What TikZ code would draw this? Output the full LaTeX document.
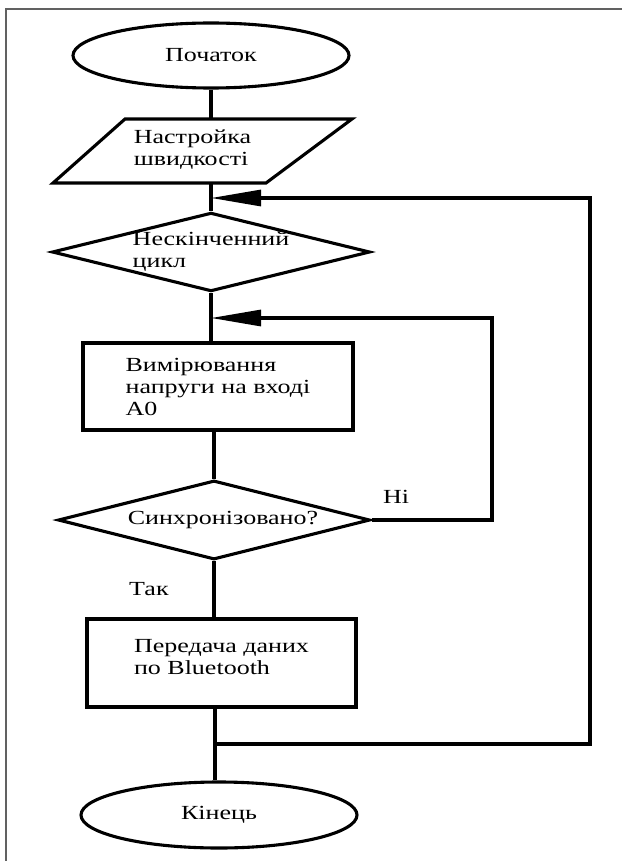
\documentclass[tikz,border=0pt]{standalone}
\usepackage{fontspec}
\setmainfont{Liberation Serif}[FakeStretch=1.3]
\usetikzlibrary{shapes.geometric,arrows.meta}
\begin{document}
\begin{tikzpicture}[x=1pt,y=-1pt,
  txt/.style={font=\fontsize{20pt}{22pt}\selectfont},
  every node/.style={inner sep=0pt, text=black},
  ln/.style={line width=3.1pt, draw=black},
  term/.style={ellipse, ln, minimum width=276pt, minimum height=65pt},
  proc/.style={rectangle, ln, align=left},
  dec/.style={diamond, ln, aspect=4, align=left},
  loopar/.style={ln, -{Triangle[length=50pt,width=16pt]}},
  frameln/.style={line width=1.6pt, draw=black!62}
]
\useasboundingbox (0,0) rectangle (622,861);
\draw[frameln] (6,861) -- (6,9) -- (622,9);

% shapes
\node[term, txt] (start) at (211,55.5) {Початок};

\coordinate (pTL) at (125,119);
\coordinate (pTR) at (352,119);
\coordinate (pBR) at (266,183);
\coordinate (pBL) at (53,183);
\draw[ln] (pTL) -- (pTR) -- (pBR) -- (pBL) -- cycle;
\node[txt, align=left] (par) at (192.5,150) {Настройка\\швидкості};
\coordinate (pin) at (211,119);
\coordinate (pout) at (211,183);

\node[dec, txt, minimum width=318pt, minimum height=78pt] (loopd) at (211,252) {Нескінченний\\цикл};

\node[proc, txt, minimum width=270pt, minimum height=87pt] (meas) at (218,386.5) {Вимірювання\\напруги на вході\\A0};

\node[dec, txt, minimum width=312pt, minimum height=79pt] (sync) at (214,520) {\hspace*{18pt}Синхронізовано?};

\node[proc, txt, minimum width=269pt, minimum height=88pt, text depth=13pt] (send) at (221.5,663) {Передача даних\\по Bluetooth};

\node[term, txt, minimum height=66pt] (stop) at (219,815) {Кінець};

% labels
\node[txt, anchor=base west] (no) at (383,503) {Ні};
\node[txt, anchor=base west] (yes) at (129,595) {Так};

% junctions
\coordinate (j1) at (211,198);
\coordinate (j3) at (211,318);
\coordinate (j2) at (215,744);
\coordinate (outer) at (590,198);
\coordinate (inner) at (492,318);

% connectors
\draw[ln] (start.south) -- (pin);
\draw[ln] (pout) -- (loopd.north);
\draw[ln] (loopd.south) -- (loopd.south |- meas.north);
\draw[ln] (meas.south -| sync.north) -- (sync.north);
\draw[ln] (sync.south) -- (sync.south |- send.north);
\draw[ln] (send.south -| j2) -- (j2) -- (j2 |- stop.north);
\draw[loopar] (j2) -| (outer) -- (j1);
\draw[loopar] (sync.east) -| (inner) -- (j3);
\end{tikzpicture}
\end{document}
